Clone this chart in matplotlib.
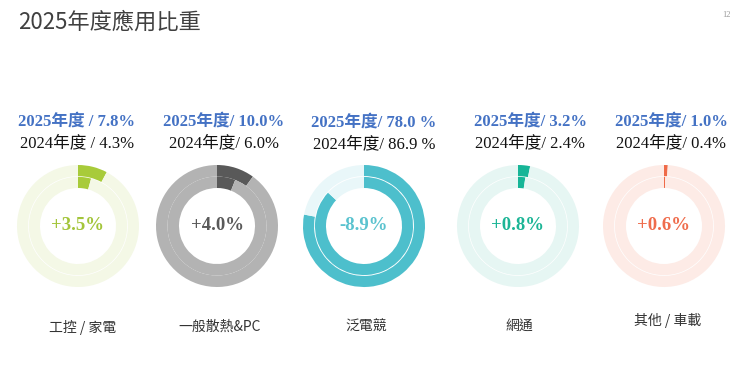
import matplotlib
matplotlib.use("Agg")
import matplotlib.pyplot as plt

# ---- data ----
categories = ["工控 / 家電", "一般散熱&PC", "泛電競", "網通", "其他 / 車載"]
share_2025 = [7.8, 10.0, 78.0, 3.2, 1.0]
share_2024 = [4.3, 6.0, 86.9, 2.4, 0.4]
label_2025 = ["2025年度 / 7.8%", "2025年度/ 10.0%", "2025年度/ 78.0 %", "2025年度/ 3.2%", "2025年度/ 1.0%"]
label_2024 = ["2024年度 / 4.3%", "2024年度/ 6.0%", "2024年度/ 86.9 %", "2024年度/ 2.4%", "2024年度/ 0.4%"]

# ---- style ----
main_colors = ["#a8cb3a", "#595959", "#4dbfcc", "#17b597", "#ef6a48"]
rest_colors = ["#f4f8e6", "#b3b3b3", "#e9f7f9", "#e6f6f3", "#fdebe6"]
text_colors = ["#a3c53a", "#595959", "#5bc3cf", "#1cb596", "#ef6c4c"]
ring_gap = [0.7, 0.0, 0.9, 0.7, 0.7]
centers_x = [78, 217, 364, 518, 664]
center_y = 377 - 226
header_x = [77, 224, 374, 530, 671]
cat_x = [83, 220, 366, 519, 668]
cat_y = [327, 327, 327, 326, 320]

W, H = 740, 377
fig = plt.figure(figsize=(W / 100, H / 100), dpi=100)
ax = fig.add_axes([0, 0, 1, 1])

serif = ["Liberation Serif", "Noto Sans CJK TC"]
sans = ["Noto Sans CJK TC", "DejaVu Sans"]

R_OUT, R_IN, HOLE = 61.0, 49.5, 38.0

for i in range(len(categories)):
    cx = centers_x[i]
    g = ring_gap[i]
    ax.pie([share_2025[i], 100 - share_2025[i]], colors=[main_colors[i], rest_colors[i]],
           startangle=90, counterclock=False, radius=R_OUT, center=(cx, center_y),
           wedgeprops=dict(width=R_OUT - R_IN - g / 2, linewidth=0))
    ax.pie([share_2024[i], 100 - share_2024[i]], colors=[main_colors[i], rest_colors[i]],
           startangle=90, counterclock=False, radius=R_IN - g / 2, center=(cx, center_y),
           wedgeprops=dict(width=R_IN - g / 2 - HOLE, linewidth=0))
    diff = share_2025[i] - share_2024[i]
    ax.text(cx, center_y, f"{diff:+.1f}%", ha="center", va="center",
            fontsize=13.5, fontweight="bold", color=text_colors[i], family=serif)
    hy = 123 if i == 2 else 122
    ax.text(header_x[i], H - hy, label_2025[i], ha="center", va="center",
            fontsize=12, fontweight="bold", color="#4472c4", family=serif)
    ax.text(header_x[i], H - (hy + 21), label_2024[i], ha="center", va="center",
            fontsize=12, color="#111111", family=serif)
    ax.text(cat_x[i], H - cat_y[i], categories[i], ha="center", va="center",
            fontsize=10, color="#333333", family=sans)

ax.text(18, H - 22, "2025年度應用比重", ha="left", va="center", fontsize=16,
        color="#404040", family=sans)
ax.text(731, H - 15, "12", ha="right", va="center", fontsize=6, color="#999999", family=serif)

ax.set_xlim(0, W)
ax.set_ylim(0, H)
ax.set_aspect("equal")
ax.axis("off")
fig.savefig("out.png", dpi=100, facecolor="white")
